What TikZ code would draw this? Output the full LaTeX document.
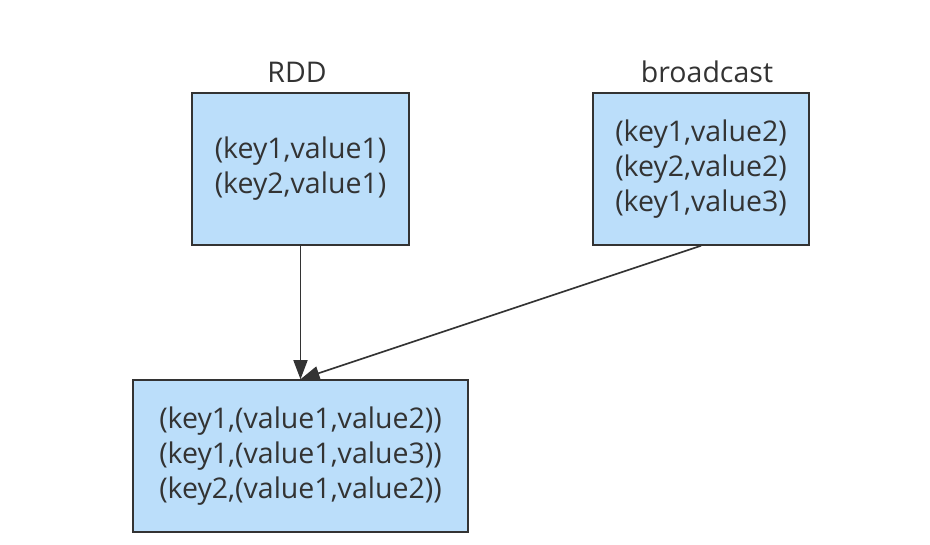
\documentclass[tikz,border=0pt]{standalone}
\usepackage{fontspec}
\setmainfont{Open Sans}
\usetikzlibrary{arrows.meta}
\definecolor{boxfill}{HTML}{BBDEFA}
\definecolor{ink}{HTML}{333333}
\begin{document}
\begin{tikzpicture}[x=1pt,y=-1pt,
  box/.style={draw=ink, line width=1.5pt, fill=boxfill, rectangle, align=center,
    text=ink, font=\fontsize{28.5}{35}\selectfont, inner sep=0pt},
  title/.style={text=ink, font=\fontsize{28.5}{35}\selectfont},
  link/.style={draw=ink, line width=1.6pt, -{Triangle[length=19pt,width=14pt]}}]
\useasboundingbox (0,0) rectangle (930,545);

\node[box, minimum width=217pt, minimum height=152pt] (rdd) at (300.5,169) {(key1,value1)\\(key2,value1)};
\node[box, minimum width=216pt, minimum height=152pt] (bcast) at (701,169) {(key1,value2)\\(key2,value2)\\(key1,value3)};
\node[box, minimum width=335pt, minimum height=152pt] (res) at (300.5,456) {(key1,(value1,value2))\\(key1,(value1,value3))\\(key2,(value1,value2))};

\node[title] (rddlabel) at (297,72) {RDD};
\node[title] (bcastlabel) at (707,72) {broadcast};

\path[link] (rdd) -- (res);
\path[link] (bcast.south) -- (res.north);
\end{tikzpicture}
\end{document}
